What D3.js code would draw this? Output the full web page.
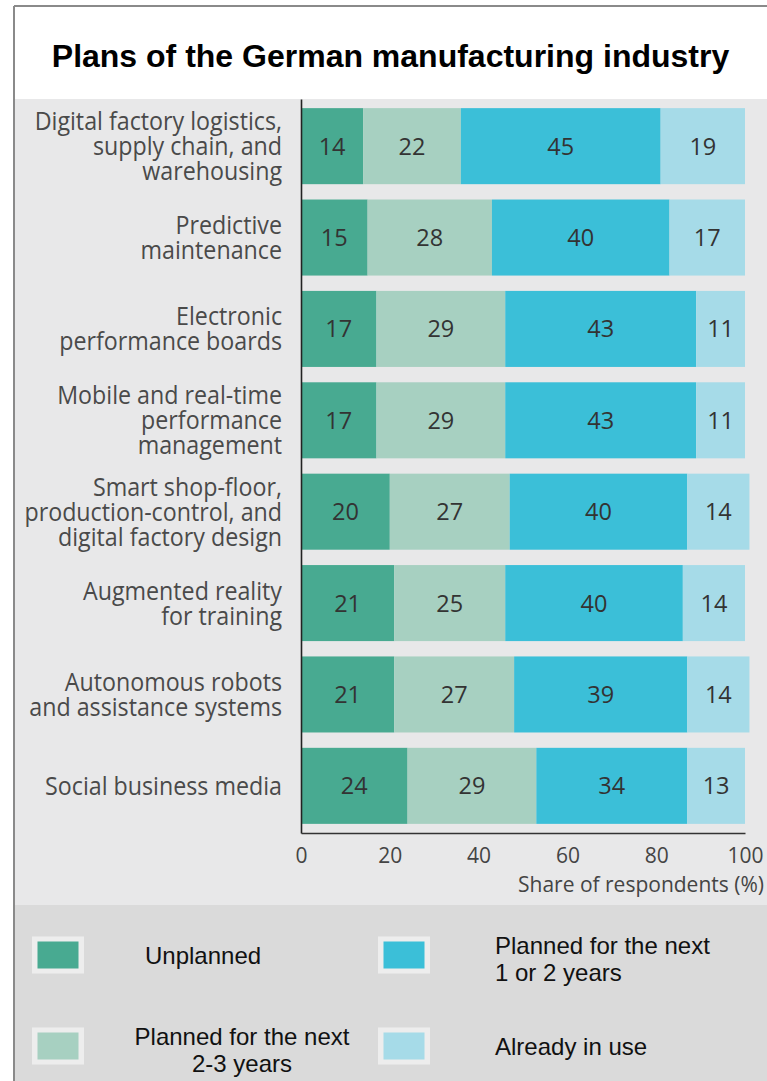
<!DOCTYPE html>
<html>
<head>
<meta charset="utf-8">
<script src="https://cdn.jsdelivr.net/npm/d3@7"></script>
<style>
  html, body { margin: 0; padding: 0; background: #ffffff; }
  svg { display: block; }
</style>
</head>
<body>
<svg id="chart" width="767" height="1081"></svg>
<script>
// ---- data ----
const titleText = "Plans of the German manufacturing industry";
const categories = [
  "Digital factory logistics, supply chain, and warehousing",
  "Predictive maintenance",
  "Electronic performance boards",
  "Mobile and real-time performance management",
  "Smart shop-floor, production-control, and digital factory design",
  "Augmented reality for training",
  "Autonomous robots and assistance systems",
  "Social business media"
];
const categoryLines = [
  ["Digital factory logistics,", "supply chain, and", "warehousing"],
  ["Predictive", "maintenance"],
  ["Electronic", "performance boards"],
  ["Mobile and real-time", "performance", "management"],
  ["Smart shop-floor,", "production-control, and", "digital factory design"],
  ["Augmented reality", "for training"],
  ["Autonomous robots", "and assistance systems"],
  ["Social business media"]
];
const unplanned   = [14, 15, 17, 17, 20, 21, 21, 24];
const planned23   = [22, 28, 29, 29, 27, 25, 27, 29];
const planned12   = [45, 40, 43, 43, 40, 40, 39, 34];
const alreadyUsed = [19, 17, 11, 11, 14, 14, 14, 13];
const seriesKeys  = ["unplanned", "planned23", "planned12", "alreadyUsed"];
const seriesNames = ["Unplanned", "Planned for the next 2-3 years", "Planned for the next 1 or 2 years", "Already in use"];
const seriesLegendLines = [
  ["Unplanned"],
  ["Planned for the next", "2-3 years"],
  ["Planned for the next", "1 or 2 years"],
  ["Already in use"]
];
const seriesColors = ["#48aa91", "#a7d0c1", "#3bbfd8", "#a6dbe8"];
const xTicks = [0, 20, 40, 60, 80, 100];
const axisTitle = "Share of respondents (%)";

// ---- layout ----
const W = 767, H = 1081;
const frameLeft = 14, frameTop = 6;
const plotTop = 99, plotBottom = 833, legendTop = 905;
const xLeft = 301, xRight = 745;
const labelSqueeze = 0.93;   // narrow the category label glyphs slightly

const svg = d3.select("#chart");

// background panels
svg.append("rect").attr("x", frameLeft).attr("y", frameTop)
  .attr("width", W - frameLeft).attr("height", plotTop - frameTop).attr("fill", "#ffffff");
svg.append("rect").attr("x", frameLeft).attr("y", plotTop)
  .attr("width", W - frameLeft).attr("height", legendTop - plotTop).attr("fill", "#e8e8e9");
svg.append("rect").attr("x", frameLeft).attr("y", legendTop)
  .attr("width", W - frameLeft).attr("height", H - legendTop).attr("fill", "#dadada");

// frame lines (top and left)
svg.append("line").attr("x1", frameLeft).attr("x2", W).attr("y1", frameTop).attr("y2", frameTop)
  .attr("stroke", "#8a8a8a").attr("stroke-width", 2);
svg.append("line").attr("x1", frameLeft).attr("x2", frameLeft).attr("y1", frameTop).attr("y2", H)
  .attr("stroke", "#8a8a8a").attr("stroke-width", 2);

// title
svg.append("text")
  .attr("x", (frameLeft + W) / 2).attr("y", 67)
  .attr("text-anchor", "middle")
  .attr("font-family", "'Liberation Sans', Arial, sans-serif")
  .attr("font-weight", "bold").attr("font-size", 32).attr("fill", "#000")
  .text(titleText);

// ---- scales ----
const x = d3.scaleLinear().domain([0, 100]).range([xLeft, xRight]);
const y = d3.scaleBand().domain(categories).range([plotTop, plotBottom])
  .paddingInner(0.168).paddingOuter(0.1);
const color = d3.scaleOrdinal().domain(seriesKeys).range(seriesColors);

const rows = categories.map((c, i) => ({
  category: c,
  unplanned: unplanned[i],
  planned23: planned23[i],
  planned12: planned12[i],
  alreadyUsed: alreadyUsed[i]
}));
const stacked = d3.stack().keys(seriesKeys)(rows);

// ---- bars ----
const layers = svg.append("g").selectAll("g.layer")
  .data(stacked).join("g").attr("class", "layer")
  .attr("fill", d => color(d.key));

layers.selectAll("rect")
  .data(d => d.map(v => ({ v, key: d.key })))
  .join("rect")
  .attr("x", d => x(d.v[0]))
  .attr("y", d => y(d.v.data.category))
  .attr("width", d => x(d.v[1]) - x(d.v[0]))
  .attr("height", y.bandwidth());

// value labels
layers.selectAll("text")
  .data(d => d.map(v => ({ v, key: d.key })))
  .join("text")
  .attr("x", d => (x(d.v[0]) + x(d.v[1])) / 2)
  .attr("y", d => y(d.v.data.category) + y.bandwidth() / 2)
  .attr("dy", "0.36em")
  .attr("text-anchor", "middle")
  .attr("font-family", "'Open Sans', sans-serif")
  .attr("font-size", 23.5)
  .attr("fill", "#333")
  .text(d => d.v.data[d.key]);

// ---- axes ----
const yAxis = svg.append("g")
  .attr("transform", `translate(${xLeft},0)`)
  .call(d3.axisLeft(y).tickSize(0).tickSizeOuter(0).tickPadding(19));
yAxis.select(".domain").attr("stroke", "#222").attr("stroke-width", 1.6);
yAxis.selectAll(".tick text")
  .attr("font-family", "'Open Sans', sans-serif")
  .attr("font-size", 25)
  .attr("fill", "#4a4a4a")
  .attr("transform", `scale(${labelSqueeze},1)`)
  .each(function(d) {
    const lines = categoryLines[categories.indexOf(d)];
    const t = d3.select(this).text(null).attr("dy", null).attr("x", null);
    const n = lines.length;
    lines.forEach((ln, i) => {
      t.append("tspan")
        .attr("x", -19 / labelSqueeze)
        .attr("y", (i - (n - 1) / 2) * 25)
        .attr("dy", "0.36em")
        .text(ln);
    });
  });

const xAxis = svg.append("g")
  .attr("transform", `translate(0,${plotBottom})`)
  .call(d3.axisBottom(x).tickValues(xTicks).tickSize(0).tickSizeOuter(0).tickPadding(15));
xAxis.select(".domain").attr("stroke", "#333").attr("stroke-width", 1.6);
xAxis.selectAll(".tick text")
  .attr("font-family", "'Open Sans', sans-serif")
  .attr("font-size", 21)
  .attr("fill", "#444");

svg.append("text")
  .attr("x", 764).attr("y", 892)
  .attr("text-anchor", "end")
  .attr("font-family", "'Open Sans', sans-serif")
  .attr("font-size", 21).attr("fill", "#444")
  .text(axisTitle);

// ---- legend ----
// grid placement: [swatchX, swatchCenterY, textX, anchor]
const legendPlacement = [
  [32, 955, 145, "start"],
  [32, 1046, 242, "middle"],
  [378, 955, 495, "start"],
  [378, 1046, 495, "start"]
];
const legend = svg.append("g").selectAll("g.item")
  .data(seriesKeys).join("g").attr("class", "item");

legend.append("rect")
  .attr("x", (d, i) => legendPlacement[i][0])
  .attr("y", (d, i) => legendPlacement[i][1] - 18.5)
  .attr("width", 52).attr("height", 37)
  .attr("fill", "#ededed");
legend.append("rect")
  .attr("x", (d, i) => legendPlacement[i][0] + 5.5)
  .attr("y", (d, i) => legendPlacement[i][1] - 13.5)
  .attr("width", 41).attr("height", 27)
  .attr("fill", d => color(d));

legend.append("text")
  .attr("font-family", "'Liberation Sans', Arial, sans-serif")
  .attr("font-size", 24).attr("fill", "#111")
  .attr("text-anchor", (d, i) => legendPlacement[i][3])
  .each(function(d, i) {
    const lines = seriesLegendLines[i];
    const n = lines.length;
    const [, cy, tx] = legendPlacement[i];
    const t = d3.select(this);
    lines.forEach((ln, j) => {
      t.append("tspan")
        .attr("x", tx)
        .attr("y", cy + 8.5 + (j - (n - 1) / 2) * 27 + (n - 1) * 4)
        .text(ln);
    });
  });
</script>
</body>
</html>
